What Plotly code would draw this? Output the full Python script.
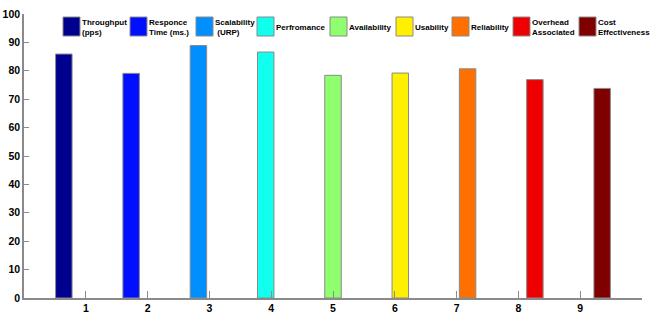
import plotly.graph_objects as go

# ---- data ----
categories = [1, 2, 3, 4, 5, 6, 7, 8, 9]
series_names = ["Throughput<br>(pps)", "Responce<br>Time (ms.)", "Scalability<br> (URP)",
                "Perfromance", "Availability", "Usability", "Reliability",
                "Overhead<br>Associated", "Cost<br>Effectiveness"]
values = [85.9, 79.1, 88.9, 86.6, 78.4, 79.2, 80.7, 76.9, 73.8]
colors = ["#00008F", "#0010FF", "#008FFF", "#10FFEF", "#8FFF70",
          "#FFEF00", "#FF7000", "#EF0000", "#800000"]
y_ticks = list(range(0, 101, 10))

# ---- layout constants ----
W, H = 650, 324
ML, MR, MT, MB = 24, 8, 14, 26
PW, PH = W - ML - MR, H - MT - MB
FONT = "Liberation Sans, Arial, sans-serif"
n = len(series_names)
group_w = 0.8
bar_w = group_w / n * 3
step = group_w / n

fig = go.Figure()
for i, (cat, name, val, col) in enumerate(zip(categories, series_names, values, colors)):
    center_off = (i - (n - 1) / 2) * step
    fig.add_trace(go.Bar(
        x=[cat], y=[val], name=name.replace("<br>", " "), width=bar_w,
        offset=center_off - bar_w / 2,
        marker=dict(color=col, line=dict(color="#8a8a8a", width=1)),
        showlegend=False,
    ))

# legend drawn manually (MATLAB-like big swatches)
leg_x0 = [63, 130, 196, 257, 330, 396, 452, 513, 579]  # pixel positions of swatches
sw_w, sw_top, sw_bot = 17, 17, 36
def px(x):
    return (x - ML) / PW
def py(y):
    return (MT + PH - y) / PH

shapes = []
annotations = []
for x0, name, col in zip(leg_x0, series_names, colors):
    shapes.append(dict(type="rect", xref="paper", yref="paper",
                       x0=px(x0), x1=px(x0 + sw_w), y0=py(sw_bot), y1=py(sw_top),
                       fillcolor=col, line=dict(color="#8a8a8a", width=1)))
    annotations.append(dict(xref="paper", yref="paper", x=px(x0 + sw_w + 1),
                            y=py((sw_top + sw_bot) / 2 + 0.5), text=name, showarrow=False,
                            xanchor="left", yanchor="middle", align="left",
                            font=dict(family=FONT, size=8, color="black", weight="bold"),
                            bgcolor="rgba(0,0,0,0)", borderpad=0))

tick_font = dict(family=FONT, size=10.5, color="black", weight="bold")
fig.update_layout(
    width=W, height=H, margin=dict(l=ML, r=MR, t=MT, b=MB, pad=0),
    plot_bgcolor="white", paper_bgcolor="white",
    barmode="overlay", shapes=shapes, annotations=annotations,
    font=dict(family=FONT, size=11, color="black"),
    xaxis=dict(range=[0, 10], tickvals=categories, ticktext=[str(c) for c in categories],
               ticks="inside", ticklen=7, tickcolor="#8a8a8a", tickwidth=1,
               showline=True, linecolor="#8a8a8a", linewidth=1.5, showgrid=False,
               zeroline=False, automargin=False, tickfont=tick_font),
    yaxis=dict(range=[0, 100], tickvals=y_ticks,
               ticks="inside", ticklen=5, tickcolor="#8a8a8a", tickwidth=1,
               showline=True, linecolor="#8a8a8a", linewidth=1.5, showgrid=False,
               zeroline=False, automargin=False, tickfont=tick_font),
)

fig.write_html("out.html", config={"displayModeBar": False},
               post_script="document.body.style.margin='0';")
